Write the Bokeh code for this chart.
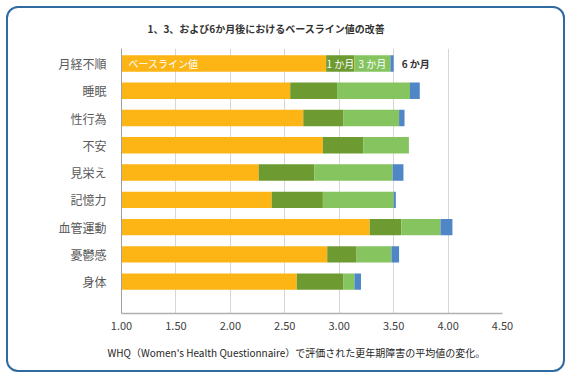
from bokeh.plotting import figure
from bokeh.layouts import column
from bokeh.models import Range1d, FixedTicker, NumeralTickFormatter, Title, ColumnDataSource
from bokeh.core.properties import value
from bokeh.embed import file_html
from bokeh.resources import INLINE

categories = ["月経不順", "睡眠", "性行為", "不安", "見栄え", "記憶力", "血管運動", "憂鬱感", "身体"]
baseline = [2.88, 2.55, 2.67, 2.85, 2.26, 2.38, 3.28, 2.89, 2.61]
month1 = [3.14, 2.98, 3.04, 3.22, 2.77, 2.85, 3.57, 3.16, 3.04]
month3 = [3.47, 3.65, 3.55, 3.64, 3.49, 3.50, 3.93, 3.48, 3.14]
month6 = [3.50, 3.74, 3.60, 3.64, 3.59, 3.52, 4.04, 3.55, 3.20]
series_names = ["ベースライン値", "1 か月", "3 か月", "6 か月"]
x_ticks = [1.0, 1.5, 2.0, 2.5, 3.0, 3.5, 4.0, 4.5]

title_text = "1、3、および6か月後におけるベースライン値の改善"
note_text = "WHQ（Women's Health Questionnaire）で評価された更年期障害の平均値の変化。"

colors = ["#FDB515", "#6E9B31", "#85C45F", "#4F86C6"]
FONT = "Noto Sans CJK JP"

p = figure(width=555, height=362, output_backend="svg", toolbar_location=None,
           title=title_text,
           x_range=Range1d(x_ticks[0], x_ticks[-1]),
           y_range=Range1d(9.17, -0.55),
           min_border_left=113, min_border_right=61,
           min_border_top=40, min_border_bottom=57)
p.outline_line_color = None
p.background_fill_color = None
p.border_fill_color = None

p.title.align = "left"
p.title.offset = 26
p.title.text_font = FONT
p.title.text_font_size = "10px"
p.title.text_font_style = "bold"
p.title.text_color = "#333333"
p.title.vertical_align = "middle"
p.title.standoff = 23

for g in p.xgrid:
    g.ticker = FixedTicker(ticks=x_ticks)
    g.grid_line_color = "#D6D6D6"
    g.grid_line_width = 1
for g in p.ygrid:
    g.grid_line_color = None

ys = list(range(len(categories)))
starts = [x_ticks[0]] * len(categories)
series = [baseline, month1, month3, month6]
prev = starts
for vals, col in zip(series, colors):
    src = ColumnDataSource(dict(y=ys, left=prev, right=vals))
    p.hbar(y="y", left="left", right="right", height=0.6, source=src,
           fill_color=col, line_color=None)
    prev = vals

p.text(x=[x_ticks[0]], y=[0], text=[series_names[0]], x_offset=7,
       text_font=value(FONT), text_font_size="10px", text_color="white",
       text_baseline="middle", text_align="left")
p.text(x=[(baseline[0] + month1[0]) / 2, (month1[0] + month3[0]) / 2], y=[0, 0],
       text=series_names[1:3], text_font=value(FONT), text_font_size="10px",
       text_color="white", text_baseline="middle", text_align="center")
p.text(x=[month6[0]], y=[0], text=[series_names[3]], x_offset=8,
       text_font=value(FONT), text_font_size="10px", text_color="#333333",
       text_font_style="bold", text_baseline="middle", text_align="left")

p.xaxis.ticker = FixedTicker(ticks=x_ticks)
p.xaxis.formatter = NumeralTickFormatter(format="0.00")
p.xaxis.major_tick_line_color = None
p.xaxis.minor_tick_line_color = None
p.xaxis.axis_line_color = "#B0B0B0"
p.xaxis.axis_line_width = 1.5
p.xaxis.major_label_text_font = FONT
p.xaxis.major_label_text_font_size = "11px"
p.xaxis.major_label_text_color = "#404040"
p.xaxis.major_label_standoff = 2

p.yaxis.ticker = FixedTicker(ticks=ys)
p.yaxis.major_label_overrides = {i: c for i, c in enumerate(categories)}
p.yaxis.major_tick_line_color = None
p.yaxis.minor_tick_line_color = None
p.yaxis.axis_line_color = "#A0A0A0"
p.yaxis.major_label_text_font = FONT
p.yaxis.major_label_text_font_size = "12px"
p.yaxis.major_label_text_color = "#595959"
p.yaxis.major_label_standoff = 9

n = Title(text=note_text, align="left", offset=-14, text_font=FONT,
          text_font_size="10px", text_font_style="normal", text_color="#262626", standoff=20)
p.add_layout(n, "below")

layout = column(p, styles={"margin-left": "6px", "margin-top": "6px",
                           "border": "2px solid #2F6BA0", "border-radius": "12px",
                           "background-color": "white"})

open("out.html", "w").write(file_html(layout, INLINE))
